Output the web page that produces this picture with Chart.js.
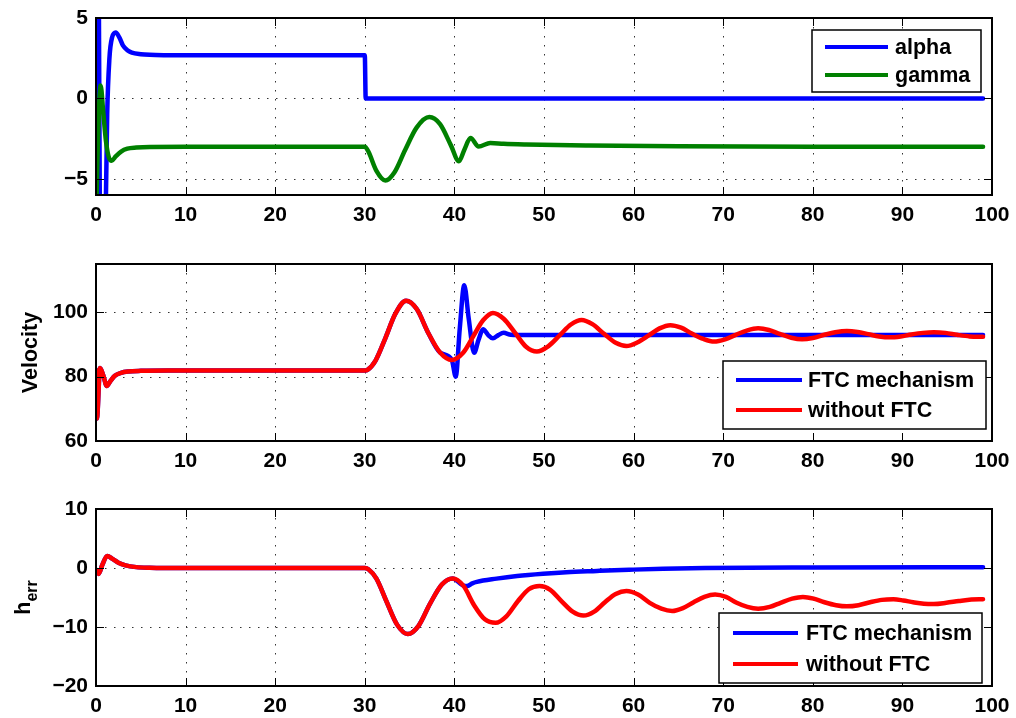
<!DOCTYPE html>
<html><head><meta charset="utf-8">
<script src="https://cdn.jsdelivr.net/npm/chart.js@4"></script>
<style>
html,body{margin:0;padding:0;background:#fff;}
#wrap{position:relative;width:1016px;height:718px;overflow:hidden;background:#fff;}
canvas{position:absolute;left:0;}
</style></head><body>
<div id="wrap">
<canvas id="c1" width="1016" height="240" style="top:0px"></canvas>
<canvas id="c2" width="1016" height="240" style="top:240px"></canvas>
<canvas id="c3" width="1016" height="238" style="top:480px"></canvas>
</div>
<script>
// ---------------- DATA ----------------
const xTicks = [0, 10, 20, 30, 40, 50, 60, 70, 80, 90, 100];
const yTicksTop = [-5, 0, 5];
const yTicksMid = [60, 80, 100];
const yTicksBot = [-20, -10, 0, 10];
const topLabels = ['alpha', 'gamma'];
const lowLabels = ['FTC mechanism', 'without FTC'];
const velocityTitle = 'Velocity';
const herrTitle = ['h', 'err'];

// subplot 1
const tAlpha = [0, 0.2, 0.37, 0.55, 0.75, 1.0, 1.25, 1.5, 1.8, 2.2, 2.6, 3.0, 3.5, 4.0, 5.0, 6.0, 8.0, 12, 20, 30.0, 30.1, 40, 60, 80, 99];
const alpha  = [40, 20, 0, -20, -25, -10, -1, 2.5, 3.8, 4.1, 3.8, 3.3, 3.0, 2.85, 2.75, 2.71, 2.69, 2.68, 2.68, 2.68, 0, 0, 0, 0, 0];
const tGamma = [0, 0.2, 0.52, 0.8, 1.1, 1.4, 1.75, 2.2, 2.8, 3.5, 4.5, 6, 10, 30, 30.4, 31.3, 32.3, 33.3, 34.5, 35.8, 37.2, 38.4, 39.6, 40.5, 41.1, 41.8, 42.7, 44.0, 45.5, 48, 55, 65, 80, 99];
const gamma  = [-8, -3, 0.8, -0.8, -2.6, -3.6, -3.87, -3.6, -3.3, -3.12, -3.05, -3.01, -3.0, -3.0, -3.3, -4.5, -5.1, -4.6, -3.2, -1.8, -1.16, -1.6, -2.9, -3.9, -3.2, -2.46, -2.98, -2.77, -2.82, -2.86, -2.92, -2.97, -3.0, -3.0];

// subplot 2
const tVelNo = [0, 0.1, 0.45, 0.8, 1.2, 1.6, 2.1, 2.8, 3.6, 5, 8, 15, 30, 30.3, 31.2, 32.3, 33.4, 34.6, 35.8, 37.1, 38.4, 39.7, 41.0, 42.1, 43.2, 44.3, 45.5, 46.8, 48.0, 49.2, 50.5, 51.8, 53.0, 54.2, 55.4, 56.7, 58.0, 59.2, 60.4, 61.7, 62.9, 64.1, 65.3, 66.5, 67.8, 69.0, 70.2, 71.4, 72.7, 73.9, 75.1, 76.3, 77.6, 78.8, 80.0, 81.3, 82.5, 83.8, 85.0, 86.2, 87.4, 88.6, 89.8, 91.0, 92.3, 93.5, 94.8, 96.1, 97.5, 99];
const velNo  = [82, 67, 82.7, 80.5, 77.1, 78.6, 80.3, 81.2, 81.6, 81.8, 81.9, 81.9, 81.9, 82.1, 85, 92, 99.5, 103.6, 101, 93.5, 87.5, 85.2, 87.5, 92.5, 97.5, 99.8, 98, 93.5, 89.3, 87.8, 89.5, 93, 96.2, 97.6, 96.3, 93.3, 90.5, 89.5, 90.6, 92.8, 95, 96.0, 95.2, 93.4, 91.7, 90.9, 91.6, 93, 94.4, 95.0, 94.5, 93.3, 92.1, 91.6, 92.0, 93, 93.8, 94.2, 93.9, 93.2, 92.5, 92.2, 92.5, 93.1, 93.6, 93.8, 93.6, 93.0, 92.5, 92.4];
const tVelFtc = [0, 0.1, 0.45, 0.8, 1.2, 1.6, 2.1, 2.8, 3.6, 5, 8, 15, 30, 30.3, 31.2, 32.3, 33.4, 34.6, 35.8, 37.1, 38.4, 39.7, 40.15, 40.6, 41.1, 41.6, 42.2, 42.7, 43.2, 43.75, 44.3, 44.9, 45.5, 46.3, 48, 60, 80, 99];
const velFtc  = [82, 67, 82.7, 80.5, 77.1, 78.6, 80.3, 81.2, 81.6, 81.8, 81.9, 81.9, 81.9, 82.1, 85, 92, 99.5, 103.6, 101, 93.5, 87.5, 85.3, 80, 95, 108.4, 98, 87.4, 91.5, 94.7, 93, 91.9, 92.9, 93.6, 93.0, 92.9, 92.95, 92.95, 92.95];

// subplot 3
const tHerrNo = [0, 0.3, 0.7, 1.25, 1.8, 2.5, 3.3, 4.5, 6, 10, 30, 30.4, 31.3, 32.4, 33.6, 34.8, 36.0, 37.3, 38.6, 39.8, 41.0, 42.2, 43.4, 44.6, 45.8, 47.1, 48.3, 49.5, 50.7, 52.0, 53.2, 54.4, 55.6, 56.8, 58.0, 59.2, 60.5, 61.8, 63.1, 64.3, 65.5, 66.7, 67.9, 69.1, 70.3, 71.5, 72.7, 73.9, 75.2, 76.4, 77.7, 78.9, 80.1, 81.3, 82.6, 83.8, 85.1, 86.4, 87.7, 89.0, 90.1, 91.2, 92.4, 93.5, 94.9, 96.3, 97.7, 99];
const herrNo  = [-0.3, -1.0, 0.5, 2.05, 1.6, 0.9, 0.45, 0.15, 0.05, 0, 0, -0.2, -1.8, -5.6, -9.6, -11.2, -9.8, -6, -2.8, -1.76, -3.0, -6.3, -8.7, -9.3, -8.2, -5.6, -3.6, -3.07, -3.7, -5.7, -7.4, -8.07, -7.4, -5.8, -4.4, -3.9, -4.5, -5.9, -6.9, -7.3, -6.8, -5.8, -4.9, -4.5, -4.9, -5.9, -6.6, -6.9, -6.6, -5.9, -5.2, -4.9, -5.2, -5.8, -6.3, -6.5, -6.3, -5.8, -5.4, -5.3, -5.5, -5.8, -6.05, -6.1, -5.9, -5.6, -5.35, -5.3];
const tHerrFtc = [0, 0.3, 0.7, 1.25, 1.8, 2.5, 3.3, 4.5, 6, 10, 30, 30.4, 31.3, 32.4, 33.6, 34.8, 36.0, 37.3, 38.6, 39.8, 41.0, 41.4, 42.0, 42.5, 44.7, 47, 49.9, 52.5, 55.9, 59.5, 63.3, 68, 80, 99];
const herrFtc  = [-0.3, -1.0, 0.5, 2.05, 1.6, 0.9, 0.45, 0.15, 0.05, 0, 0, -0.2, -1.8, -5.6, -9.6, -11.2, -9.8, -6, -2.8, -1.76, -3.0, -3.07, -2.6, -2.35, -1.8, -1.35, -0.96, -0.7, -0.5, -0.3, -0.12, 0, 0.08, 0.12];

// ---------------- RENDERING ----------------
const FONT = '"Liberation Sans", Arial, Helvetica, sans-serif';
const pts = (t, v) => t.map((x, i) => ({x: x, y: v[i]}));
const fmt = v => String(v).replace('-', '\u2212');

function ds(label, data, color, order) {
  return {label, data, borderColor: color, backgroundColor: color, borderWidth: 4.5,
    pointRadius: 0, fill: false, cubicInterpolationMode: 'monotone',
    borderCapStyle: 'round', borderJoinStyle: 'round', order};
}

function decor(o) {
  return {
    id: 'decor',
    beforeDatasetsDraw(chart) {
      const {ctx, chartArea: a, scales: {x, y}} = chart;
      ctx.save();
      ctx.strokeStyle = '#333'; ctx.lineWidth = 1; ctx.setLineDash([1.5, 7.5]);
      xTicks.forEach(v => {
        if (v <= x.min || v >= x.max) return;
        const px = Math.round(x.getPixelForValue(v)) + 0.5;
        ctx.beginPath(); ctx.moveTo(px, a.top); ctx.lineTo(px, a.bottom); ctx.stroke();
      });
      o.yTicks.forEach(v => {
        if (v <= y.min || v >= y.max) return;
        const py = Math.round(y.getPixelForValue(v)) + 0.5;
        ctx.beginPath(); ctx.moveTo(a.left, py); ctx.lineTo(a.right, py); ctx.stroke();
      });
      ctx.restore();
    },
    afterDatasetsDraw(chart) {
      const {ctx, chartArea: a, scales: {x, y}} = chart;
      ctx.save();
      // ticks
      ctx.strokeStyle = '#000'; ctx.lineWidth = 1; ctx.setLineDash([]);
      const T = 8;
      xTicks.forEach(v => {
        if (v <= x.min || v >= x.max) return;
        const px = Math.round(x.getPixelForValue(v)) + 0.5;
        ctx.beginPath(); ctx.moveTo(px, a.bottom); ctx.lineTo(px, a.bottom - T);
        ctx.moveTo(px, a.top); ctx.lineTo(px, a.top + T); ctx.stroke();
      });
      o.yTicks.forEach(v => {
        if (v <= y.min || v >= y.max) return;
        const py = Math.round(y.getPixelForValue(v)) + 0.5;
        ctx.beginPath(); ctx.moveTo(a.left, py); ctx.lineTo(a.left + T, py);
        ctx.moveTo(a.right, py); ctx.lineTo(a.right - T, py); ctx.stroke();
      });
      // frame
      ctx.lineWidth = 2;
      const l = Math.round(a.left), t = Math.round(a.top), r = Math.round(a.right), b = Math.round(a.bottom);
      ctx.strokeRect(l, t, r - l, b - t);
      // legend
      const L = o.legend, off = o.top;
      ctx.fillStyle = '#fff';
      ctx.fillRect(L.x, L.y - off, L.w, L.h);
      ctx.lineWidth = 1.5; ctx.strokeStyle = '#000';
      ctx.strokeRect(L.x, L.y - off, L.w, L.h);
      ctx.font = 'bold 21.5px ' + FONT;
      ctx.textBaseline = 'middle'; ctx.textAlign = 'left';
      chart.data.datasets.forEach((d, i) => {
        const ry = L.rows[i] - off;
        ctx.strokeStyle = d.borderColor; ctx.lineWidth = 4; ctx.lineCap = 'butt';
        ctx.beginPath(); ctx.moveTo(L.lx0, ry); ctx.lineTo(L.lx1, ry); ctx.stroke();
        ctx.fillStyle = '#000';
        ctx.fillText(d.label, L.tx, ry + 1);
      });
      // y-axis title
      const cy = (a.top + a.bottom) / 2;
      ctx.fillStyle = '#000';
      if (o.title === 'velocity') {
        ctx.save(); ctx.translate(37, cy); ctx.rotate(-Math.PI / 2);
        ctx.textAlign = 'center'; ctx.textBaseline = 'alphabetic';
        ctx.font = 'bold 21.5px ' + FONT;
        ctx.fillText(velocityTitle, 0, 0);
        ctx.restore();
      } else if (o.title === 'herr') {
        ctx.save(); ctx.translate(30, cy); ctx.rotate(-Math.PI / 2);
        ctx.textAlign = 'left'; ctx.textBaseline = 'alphabetic';
        ctx.font = 'bold 21.5px ' + FONT;
        const wH = ctx.measureText(herrTitle[0]).width;
        ctx.font = 'bold 16px ' + FONT;
        const wE = ctx.measureText(herrTitle[1]).width;
        const s = -(wH + wE) / 2;
        ctx.font = 'bold 21.5px ' + FONT;
        ctx.fillText(herrTitle[0], s, 0);
        ctx.font = 'bold 16px ' + FONT;
        ctx.fillText(herrTitle[1], s + wH, 7);
        ctx.restore();
      }
      ctx.restore();
    }
  };
}

function makeChart(id, o) {
  return new Chart(document.getElementById(id), {
    type: 'line',
    data: {datasets: o.datasets},
    options: {
      responsive: false, animation: false, events: [],
      layout: {padding: {top: o.padTop, right: 24, left: 0, bottom: 0}},
      plugins: {legend: {display: false}, tooltip: {enabled: false}, title: {display: false}},
      scales: {
        x: {type: 'linear', min: 0, max: 100,
          afterBuildTicks: s => { s.ticks = xTicks.map(v => ({value: v})); },
          afterFit: s => { s.height = o.xAxisH; },
          grid: {display: false, drawTicks: false}, border: {display: false},
          ticks: {padding: 2, color: '#000', autoSkip: false, maxRotation: 0,
            font: {family: FONT, size: 21, weight: 'bold', lineHeight: 1.77}, callback: v => fmt(v)}},
        y: {type: 'linear', min: o.yMin, max: o.yMax,
          afterBuildTicks: s => { s.ticks = o.yTicks.map(v => ({value: v})); },
          afterFit: s => { s.width = 96; },
          grid: {display: false, drawTicks: false}, border: {display: false},
          ticks: {padding: 8, color: '#000', autoSkip: false,
            font: {family: FONT, size: 21, weight: 'bold', lineHeight: 0.8}, callback: v => fmt(v)}}
      }
    },
    plugins: [decor(o)]
  });
}

makeChart('c1', {
  top: 0, padTop: 18, xAxisH: 45, yMin: -6, yMax: 5, yTicks: yTicksTop,
  datasets: [ds(topLabels[0], pts(tAlpha, alpha), '#0000ff', 1), ds(topLabels[1], pts(tGamma, gamma), '#008000', 0)],
  legend: {x: 812, y: 30, w: 169, h: 62, rows: [47, 75], lx0: 825, lx1: 888, tx: 895},
  title: null
});
makeChart('c2', {
  top: 240, padTop: 24, xAxisH: 39, yMin: 60, yMax: 115, yTicks: yTicksMid,
  datasets: [ds(lowLabels[0], pts(tVelFtc, velFtc), '#0000ff', 1), ds(lowLabels[1], pts(tVelNo, velNo), '#ff0000', 0)],
  legend: {x: 723, y: 361, w: 263, h: 68, rows: [380, 410], lx0: 736, lx1: 802, tx: 808},
  title: 'velocity'
});
makeChart('c3', {
  top: 480, padTop: 29, xAxisH: 32, yMin: -20, yMax: 10, yTicks: yTicksBot,
  datasets: [ds(lowLabels[0], pts(tHerrFtc, herrFtc), '#0000ff', 1), ds(lowLabels[1], pts(tHerrNo, herrNo), '#ff0000', 0)],
  legend: {x: 719, y: 613, w: 263, h: 70, rows: [633, 664], lx0: 733, lx1: 798, tx: 806},
  title: 'herr'
});
</script>
</body></html>
